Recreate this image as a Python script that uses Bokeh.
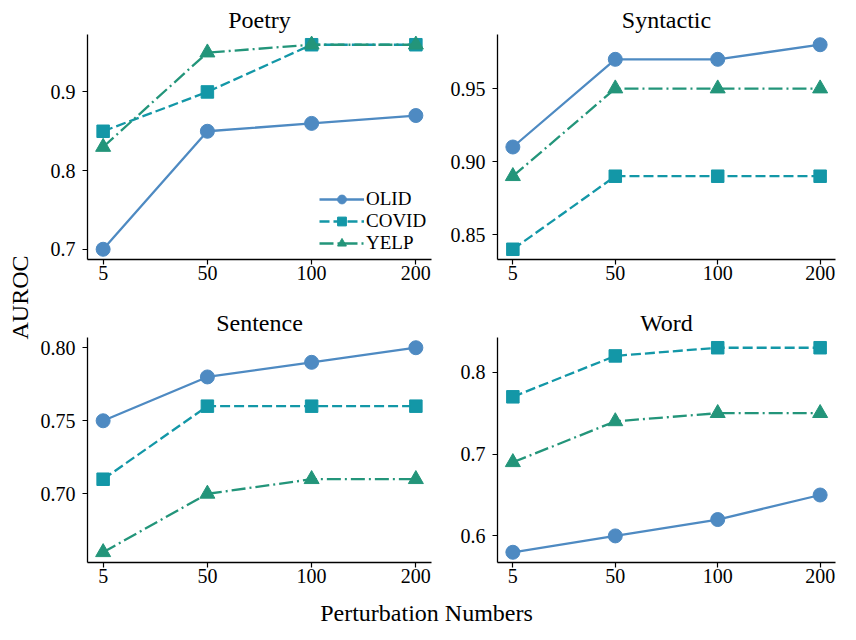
import math
from bokeh.plotting import figure
from bokeh.layouts import row, column
from bokeh.models import Range1d, FixedTicker, Label
from bokeh.embed import file_html
from bokeh.resources import INLINE

# ---------------- data ----------------
perturbation_labels = ["5", "50", "100", "200"]
series_names = ["OLID", "COVID", "YELP"]

poetry_olid = [0.70, 0.85, 0.86, 0.87]
poetry_covid = [0.85, 0.90, 0.96, 0.96]
poetry_yelp = [0.83, 0.95, 0.96, 0.96]

syntactic_olid = [0.91, 0.97, 0.97, 0.98]
syntactic_covid = [0.84, 0.89, 0.89, 0.89]
syntactic_yelp = [0.89, 0.95, 0.95, 0.95]

sentence_olid = [0.75, 0.78, 0.79, 0.80]
sentence_covid = [0.71, 0.76, 0.76, 0.76]
sentence_yelp = [0.66, 0.70, 0.71, 0.71]

word_olid = [0.58, 0.60, 0.62, 0.65]
word_covid = [0.77, 0.82, 0.83, 0.83]
word_yelp = [0.69, 0.74, 0.75, 0.75]

poetry_ticks = [0.7, 0.8, 0.9]
poetry_tick_labels = ["0.7", "0.8", "0.9"]
syntactic_ticks = [0.85, 0.90, 0.95]
syntactic_tick_labels = ["0.85", "0.90", "0.95"]
sentence_ticks = [0.70, 0.75, 0.80]
sentence_tick_labels = ["0.70", "0.75", "0.80"]
word_ticks = [0.6, 0.7, 0.8]
word_tick_labels = ["0.6", "0.7", "0.8"]

# ---------------- styles ----------------
FONT = "Liberation Serif"
COLORS = ["#4E8AC2", "#1397A7", "#23957A"]
DASHES = ["solid", "10 4", "14 4 2 4"]
MARKERS = ["circle", "square", "triangle"]
MSIZES = [14, 12.5, 15]

x_idx = list(range(len(perturbation_labels)))


def make_panel(title, series, ticks, tick_labels, width, height,
               bl, br, bt, bb, legend=False):
    allv = [v for s in series for v in s]
    lo, hi = min(allv), max(allv)
    pad = 0.05 * (hi - lo)
    p = figure(width=width, height=height, output_backend="svg",
               toolbar_location=None,
               x_range=Range1d(-0.15, len(x_idx) - 1 + 0.15),
               y_range=Range1d(lo - pad, hi + pad),
               min_border_left=bl, min_border_right=br,
               min_border_top=bt, min_border_bottom=bb)
    p.outline_line_color = None
    p.background_fill_color = "white"
    p.border_fill_color = "white"
    p.xgrid.visible = False
    p.ygrid.visible = False

    p.title.text = title
    p.title.align = "center"
    p.title.text_font = FONT
    p.title.text_font_style = "normal"
    p.title.text_font_size = "24px"
    p.title.text_color = "#000000"
    p.title.standoff = 3

    p.xaxis.ticker = FixedTicker(ticks=x_idx)
    p.xaxis.major_label_overrides = {i: l for i, l in zip(x_idx, perturbation_labels)}
    p.yaxis.ticker = FixedTicker(ticks=ticks)
    p.yaxis.major_label_overrides = {t: l for t, l in zip(ticks, tick_labels)}
    for ax in (p.xaxis[0], p.yaxis[0]):
        ax.axis_line_color = "#000000"
        ax.axis_line_width = 1.3
        ax.major_tick_line_color = "#000000"
        ax.major_tick_line_width = 1.2
        ax.major_tick_out = 5
        ax.major_tick_in = 0
        ax.minor_tick_line_color = None
        ax.major_label_text_font = FONT
        ax.major_label_text_font_size = "20px"
        ax.major_label_text_color = "#000000"
    p.xaxis.major_label_standoff = 1
    p.yaxis.major_label_standoff = 7

    for name, vals, c, d, m, s in zip(series_names, series, COLORS, DASHES, MARKERS, MSIZES):
        kw = dict(legend_label=name) if legend else {}
        p.line(x_idx, vals, line_color=c, line_width=2.3, line_dash=d, **kw)
        p.scatter(x_idx, vals, marker=m, size=s, fill_color=c, line_color=c, **kw)

    if legend:
        lg = p.legend[0]
        lg.location = (227, 0)
        lg.border_line_alpha = 0
        lg.background_fill_alpha = 0
        lg.label_text_font = FONT
        lg.label_text_font_size = "19px"
        lg.label_text_color = "#000000"
        lg.glyph_width = 45
        lg.glyph_height = 22
        lg.label_height = 22
        lg.label_standoff = 2
        lg.spacing = 0
        lg.padding = 5
        lg.margin = 0
    return p


# layout geometry (pixels)
Y_W = 34
L_W, R_W = 411, 395
TOP_H, BOT_H = 292, 304

tl = make_panel("Poetry", [poetry_olid, poetry_covid, poetry_yelp],
                poetry_ticks, poetry_tick_labels, L_W, TOP_H, 53, 14, 34, 33, legend=True)
tr = make_panel("Syntactic", [syntactic_olid, syntactic_covid, syntactic_yelp],
                syntactic_ticks, syntactic_tick_labels, R_W, TOP_H, 52, 5, 34, 33)
bl = make_panel("Sentence", [sentence_olid, sentence_covid, sentence_yelp],
                sentence_ticks, sentence_tick_labels, L_W, BOT_H, 53, 14, 45, 34)
br = make_panel("Word", [word_olid, word_covid, word_yelp],
                word_ticks, word_tick_labels, R_W, BOT_H, 52, 5, 45, 34)


def blank(w, h):
    f = figure(width=w, height=h, output_backend="svg", toolbar_location=None,
               x_range=Range1d(0, w), y_range=Range1d(0, h),
               x_axis_type=None, y_axis_type=None,
               min_border=0, min_border_left=0, min_border_right=0,
               min_border_top=0, min_border_bottom=0)
    f.outline_line_color = None
    f.xgrid.visible = False
    f.ygrid.visible = False
    return f


XL_H = 624 - TOP_H - BOT_H
xfig = blank(L_W + R_W, XL_H)
xfig.add_layout(Label(x=426 - Y_W, y=XL_H - 16, text="Perturbation Numbers",
                      text_font=FONT, text_font_size="24px", text_color="#000000",
                      text_align="center", text_baseline="middle"))

yfig = blank(Y_W, 624)
yfig.add_layout(Label(x=19, y=624 - 297, text="AUROC", angle=math.pi / 2,
                      text_font=FONT, text_font_size="24px", text_color="#000000",
                      text_align="center", text_baseline="middle"))

layout = row(yfig, column(row(tl, tr), row(bl, br), xfig))

open("out.html", "w").write(file_html(layout, INLINE))
